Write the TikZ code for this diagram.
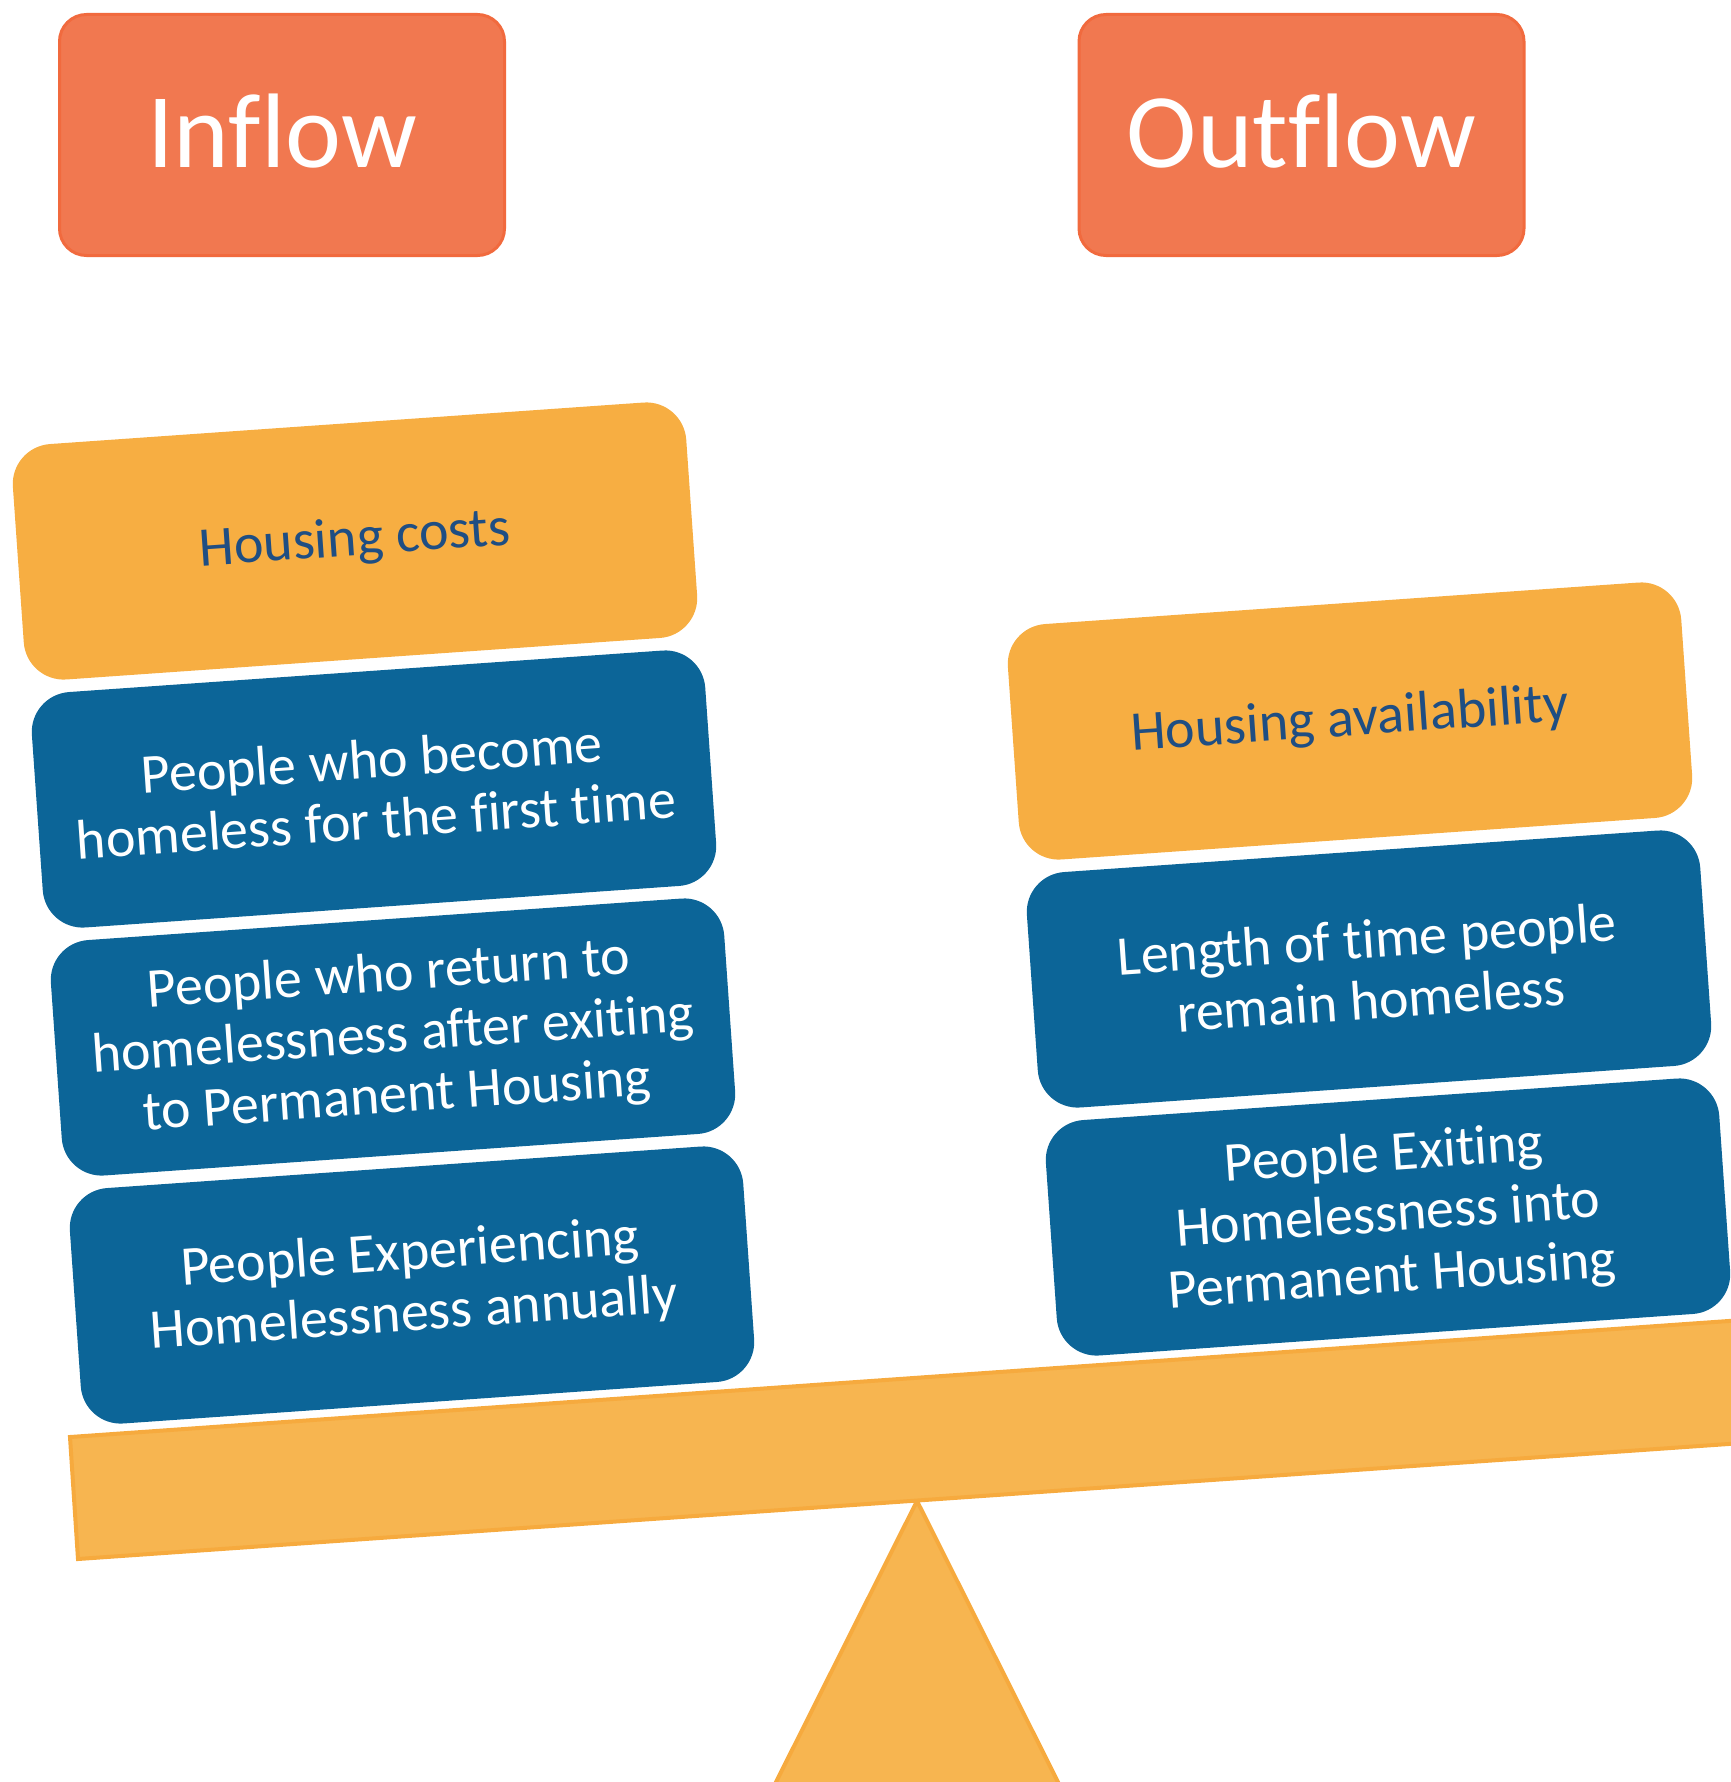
\documentclass[tikz,border=0pt]{standalone}
\usepackage{fontspec}
\setmainfont{Carlito}[Ligatures={NoCommon}]
\definecolor{hdrfill}{RGB}{241,120,80}
\definecolor{hdrline}{RGB}{241,106,62}
\definecolor{gold}{RGB}{247,174,66}
\definecolor{beamfill}{RGB}{247,181,80}
\definecolor{beamline}{RGB}{246,170,62}
\definecolor{bluefill}{RGB}{12,101,152}
\definecolor{navytext}{RGB}{31,78,131}
\begin{document}
\begin{tikzpicture}[x=1pt,y=-1pt,
  header/.style={draw=hdrline, line width=3pt, fill=hdrfill, rounded corners=27pt,
    minimum width=445pt, minimum height=241pt, inner sep=0pt, text=white,
    font=\fontsize{106}{120}\selectfont},
  factor/.style={rotate=4, rounded corners=40pt, minimum width=675pt, minimum height=236pt,
    inner sep=0pt, align=center, font=\fontsize{56}{61}\selectfont},
  goldbox/.style={factor, fill=gold, text=navytext},
  bluebox/.style={factor, fill=bluefill, text=white},
  beamstyle/.style={fill=beamfill, draw=beamline, line width=4pt, line join=miter}]
\useasboundingbox (0,0) rectangle (1731,1782);
\clip (0,0) rectangle (1731,1782);

% headers
\node[header] (inflow) at (282,135) {\raisebox{9pt}{Inflow}};
\node[header] (outflow) at (1301.5,135) {\raisebox{9pt}{Outflow}};

% left stack
\node[goldbox] (costs) at (355,541) {Housing costs};
\node[bluebox] (first) at (374,789) {People who become\\homeless for the first time};
\node[bluebox] (return) at (393,1037) {People who return to\\homelessness after exiting\\to Permanent Housing};
\node[bluebox] (annual) at (412,1285) {People Experiencing\\Homelessness annually};

% right stack
\node[goldbox] (avail) at (1350,721) {Housing availability};
\node[bluebox] (length) at (1369,969) {Length of time people\\remain homeless};
\node[bluebox] (exiting) at (1388,1217) {People Exiting\\Homelessness into\\Permanent Housing};

% fulcrum and beam
\draw[beamstyle] (917,1501) -- (1067,1800) -- (767,1800) -- cycle;
\draw[beamstyle] (70,1437) -- (1800,1316) -- (1800,1439) -- (78,1559) -- cycle;
\end{tikzpicture}
\end{document}
